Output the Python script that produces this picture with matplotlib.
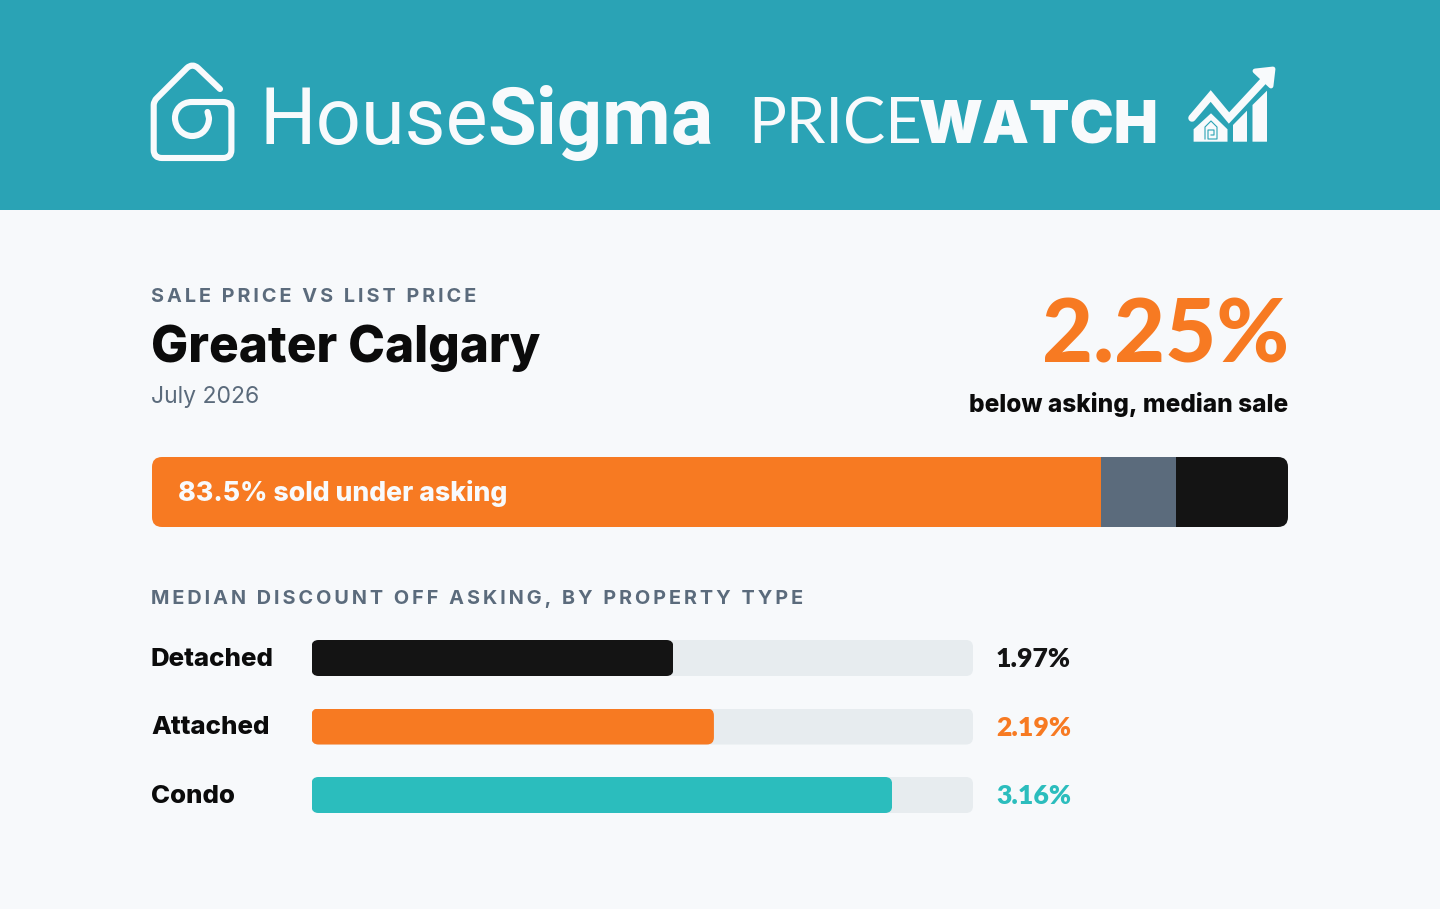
import matplotlib
matplotlib.use('Agg')
import matplotlib.pyplot as plt
from matplotlib.patches import FancyBboxPatch, PathPatch, Polygon, Rectangle
from matplotlib.path import Path
from matplotlib.transforms import IdentityTransform

# data
region = 'Greater Calgary'
period = 'July 2026'
headline = '2.25%'
headline_note = 'below asking, median sale'
share_names = ['under', 'at', 'over']
share_values = [83.5, 6.6, 9.9]
share_label = '83.5% sold under asking'
types = ['Detached', 'Attached', 'Condo']
discounts = [1.97, 2.19, 3.16]
discount_labels = ['1.97%', '2.19%', '3.16%']
discount_max = 3.6

# colours
HEADER = '#2AA3B5'
BG = '#F7F9FB'
ORANGE = '#F77A22'
SLATE = '#5B6B7C'
BLACK = '#141414'
TEAL = '#2BBDBD'
TRACK = '#E7ECEF'
WHITE = '#F8FAFC'

W, H = 1440, 909
fig = plt.figure(figsize=(W / 100, H / 100), dpi=100, facecolor=BG)
bg = fig.add_axes([0, 0, 1, 1])
bg.set_xlim(0, W)
bg.set_ylim(H, 0)
bg.axis('off')

# text goes on its own layer above the bars
top_layer = fig.add_axes([0, 0, 1, 1], zorder=5)
top_layer.set_xlim(0, W)
top_layer.set_ylim(H, 0)
top_layer.axis('off')

bg.add_patch(Rectangle((0, 0), W, 210, color=HEADER, lw=0))


def spaced(s):
    return '\u200a\u200a'.join(s)


def txt(x, y, s, size, color, weight='normal', family='Inter', ha='left', va='baseline'):
    return top_layer.text(x, y, s, fontsize=size, color=color, fontweight=weight,
                          family=[family, 'DejaVu Sans'], ha=ha, va=va)


def sub_axes(left, top, width, height, xmax):
    ax = fig.add_axes([left / W, 1 - (top + height) / H, width / W, height / H])
    ax.set_xlim(0, xmax)
    ax.set_ylim(0, 1)
    ax.axis('off')
    return ax


def round_clip(bar, r):
    box = bar.get_window_extent()
    return FancyBboxPatch((box.x0, box.y0), box.width, box.height,
                          boxstyle='round,pad=0,rounding_size=%d' % r,
                          transform=IdentityTransform())


# logo house, one stroke with the swirl at its end
M, L, Q, C = Path.MOVETO, Path.LINETO, Path.CURVE3, Path.CURVE4
house = Path(
    [(220, 89), (198, 68), (192.5, 63), (187, 68), (157, 98), (153.7, 101), (153.7, 105),
     (153.7, 150), (153.7, 158), (162, 158), (223, 158), (231.4, 158), (231.4, 150),
     (231.4, 110), (231.4, 102), (223, 102), (192, 102),
     (181, 102), (175, 110), (175, 118), (175, 128), (183, 136), (192, 136),
     (203, 136), (209, 127), (209, 118), (207.5, 112)],
    [M, L, Q, Q, L, Q, Q, L, Q, Q, L, Q, Q, L, Q, Q, L, C, C, C, C, C, C, C, C, C, L])
bg.add_patch(PathPatch(house, fc='none', ec=WHITE, lw=4.4, capstyle='round', joinstyle='round'))

# logo words
t = txt(260, 144, 'House', 57.2, WHITE, family='Roboto')
x = t.get_window_extent(fig.canvas.get_renderer()).x1
txt(x - 1, 144, 'Sigma', 57.2, WHITE, weight='bold', family='Roboto')
t = txt(748, 143, 'PRICE', 45.5, WHITE, family='Lato')
x = t.get_window_extent(fig.canvas.get_renderer()).x1
txt(x - 3, 143, 'WATCH', 42.6, WHITE, weight='black', family='Inter')

# pricewatch icon
bg.plot([1192, 1210.7, 1229, 1268], [118, 96, 118, 76], color=WHITE, lw=5.4,
        solid_capstyle='round', solid_joinstyle='miter')
bg.add_patch(Polygon([(1255, 71), (1273, 69), (1271, 86)], fc=WHITE, ec=WHITE, lw=3.5, joinstyle='round'))
bg.add_patch(Polygon([(1233, 141.7), (1233, 125), (1247, 110.7), (1247, 141.7)], color=WHITE, lw=0))
bg.add_patch(Polygon([(1252.5, 141.7), (1252.5, 105), (1267, 90.7), (1267, 141.7)], color=WHITE, lw=0))
bg.add_patch(Polygon([(1193.6, 141.7), (1193.6, 129.3), (1211, 113.3), (1227.5, 129.3), (1227.5, 141.7)],
                     color=WHITE, lw=0))
bg.plot([1205, 1205, 1211, 1217, 1217, 1208, 1208, 1214, 1214, 1211],
        [139, 127, 121, 127, 139, 139, 130, 130, 135, 135], color=HEADER, lw=0.8)

# heading
txt(151, 302.5, spaced('SALE PRICE VS LIST PRICE'), 14.3, SLATE, weight='bold')
txt(151, 362, region, 35.7, '#0B0B0B', weight='heavy')
txt(151, 403, period, 16.5, SLATE)
txt(1289, 362.5, headline, 63.5, ORANGE, weight='black', family='Lato', ha='right')
txt(1288, 412, headline_note, 17.6, '#0B0B0B', weight='heavy', ha='right')

# stacked share bar
ax = sub_axes(152, 457, 1136, 70, sum(share_values))
left = 0
for name, val, col in zip(share_names, share_values, [ORANGE, SLATE, BLACK]):
    bar = ax.barh(0.5, val, left=left, height=1, color=col, lw=0)[0]
    left += val
    bar.set_label(name)
full = FancyBboxPatch((152, 457), 1136, 70, boxstyle='round,pad=0,rounding_size=10',
                      transform=bg.transData)
for bar in ax.patches:
    bar.set_clip_path(full)
txt(178, 501, share_label, 19.2, WHITE, weight='heavy')

# by type
txt(151, 603.5, spaced('MEDIAN DISCOUNT OFF ASKING, BY PROPERTY TYPE'), 14.3, SLATE, weight='bold')
tops = [640, 708.5, 777]
for name, val, lab, col, top in zip(types, discounts, discount_labels, [BLACK, ORANGE, TEAL], tops):
    ax = sub_axes(311.5, top, 661.5, 36, discount_max)
    track = ax.barh(0.5, discount_max, height=1, color=TRACK, lw=0)[0]
    track.set_clip_path(round_clip(track, 7))
    bar = ax.barh(0.5, val, height=1, color=col, lw=0)[0]
    bar.set_clip_path(round_clip(bar, 7))
    txt(151, top + 26, name, 18.6, '#0B0B0B', weight='heavy')
    txt(996, top + 27, lab, 19.2, col, weight='heavy', family='Lato')

fig.savefig('out.png', dpi=100, facecolor=BG)
